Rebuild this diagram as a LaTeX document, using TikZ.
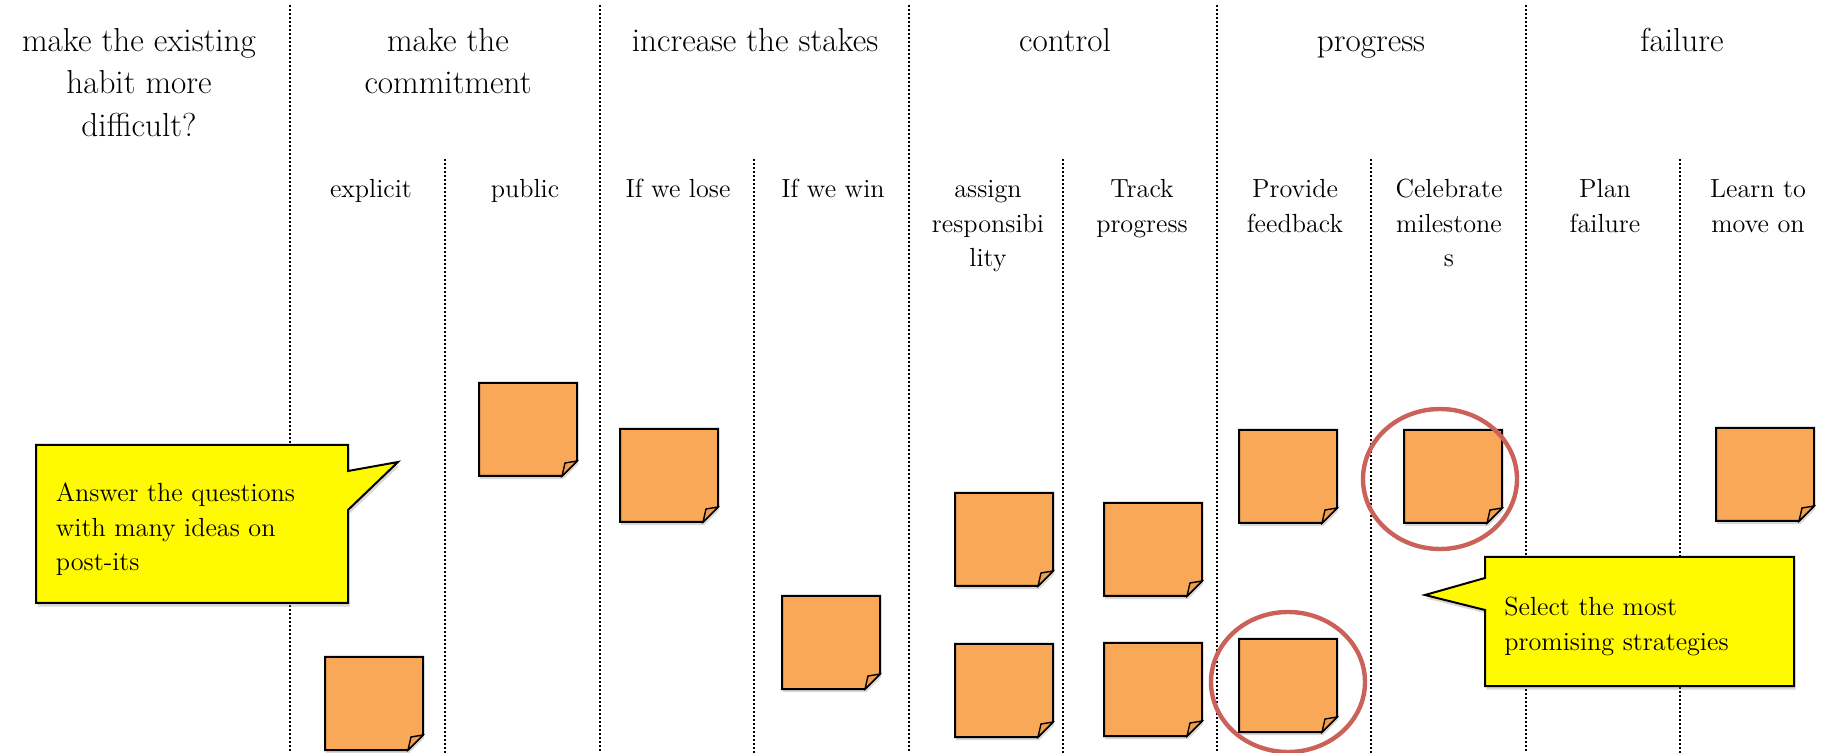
\documentclass[tikz,border=0pt]{standalone}
\usepackage{tikz}
\usetikzlibrary{shadows}

\definecolor{postitorange}{RGB}{249,168,87}
\definecolor{foldorange}{RGB}{243,158,78}
\definecolor{ringred}{RGB}{203,98,90}
\definecolor{noteyellow}{RGB}{255,250,0}

\tikzset{
  colline/.style={line width=1.1pt, dash pattern=on 1.1pt off 0.9pt},
  head/.style={font=\fontsize{16.6}{21.25}\selectfont, align=center, anchor=north, inner sep=0pt},
  subhead/.style={font=\fontsize{13.1}{17.25}\selectfont, align=center, anchor=north, inner sep=0pt},
  notetext/.style={font=\fontsize{13.1}{17.25}\selectfont, align=left, anchor=north west, inner sep=0pt},
  notebox/.style={draw=black, line width=1pt, fill=noteyellow,
    drop shadow={shadow xshift=0.8pt, shadow yshift=-1.8pt, opacity=0.3}},
  pickring/.style={draw=ringred, line width=2.2pt},
  postit/.pic={
    \draw[line width=1pt, fill=postitorange,
      drop shadow={shadow xshift=0.6pt, shadow yshift=-1.6pt, opacity=0.3}]
      (0,0) -- (98,0) -- (98,78) -- (83,93) -- (0,93) -- cycle;
    \draw[line width=0.7pt, fill=foldorange] (83,93) -- (86,80) -- (98,78) -- cycle;
  }
}

\begin{document}
\begin{tikzpicture}[x=0.5pt, y=-0.5pt]
\useasboundingbox (0,0) rectangle (1822,753);
\fill[white] (0,0) rectangle (1822,753);

\foreach \x in {290,600,909,1217,1526} % columns
\draw[colline] (\x,5) -- (\x,753);
\foreach \x in {445,754,1063,1371,1680} % half columns
\draw[colline] (\x,159) -- (\x,753);

% column titles
\node[head] (hdHabit) at (139,21) {\strut make the existing\\habit more\\difficult?};
\node[head] (hdCommit) at (448,21) {\strut make the\\commitment};
\node[head] (hdStakes) at (755,21) {\strut increase the stakes};
\node[head] (hdControl) at (1065,21) {\strut control};
\node[head] (hdProgress) at (1371,21) {\strut progress};
\node[head] (hdFailure) at (1682,21) {\strut failure};

% sub titles
\node[subhead] (sbExplicit) at (371,173) {\strut explicit};
\node[subhead] (sbPublic) at (525,173) {\strut public};
\node[subhead] (sbLose) at (678,173) {\strut If we lose};
\node[subhead] (sbWin) at (833,173) {\strut If we win};
\node[subhead] (sbAssign) at (988,173) {\strut assign\\responsibi\\lity};
\node[subhead] (sbTrack) at (1142,173) {\strut Track\\progress};
\node[subhead] (sbFeedback) at (1295,173) {\strut Provide\\feedback};
\node[subhead] (sbCelebrate) at (1449,173) {\strut Celebrate\\milestone\\s};
\node[subhead] (sbPlan) at (1605,173) {\strut Plan\\failure};
\node[subhead] (sbLearn) at (1758,173) {\strut Learn to\\move on};

% post-its
\foreach \px/\py in {479/383, 325/657, 620/429, 782/596, 955/493, 955/644,
  1104/503, 1104/643, 1239/430, 1239/639, 1404/430, 1716/428}
\pic at (\px,\py) {postit};

% callouts
\draw[notebox] (36,445) -- (348,445) -- (348,471) -- (398,462) -- (348,510)
  -- (348,603) -- (36,603) -- cycle;
\node[notetext] (noteAnswer) at (55.5,477) {\strut Answer the questions\\with many ideas on\\post-its};

\draw[notebox] (1485,557) -- (1794,557) -- (1794,686) -- (1485,686) -- (1485,610)
  -- (1425,595) -- (1485,578) -- cycle;
\node[notetext] (noteSelect) at (1504,591) {\strut Select the most\\promising strategies};

% chosen ones
\draw[pickring] (1440,479) ellipse [x radius=77, y radius=70];
\draw[pickring] (1288,682) ellipse [x radius=77, y radius=70];

\end{tikzpicture}
\end{document}
